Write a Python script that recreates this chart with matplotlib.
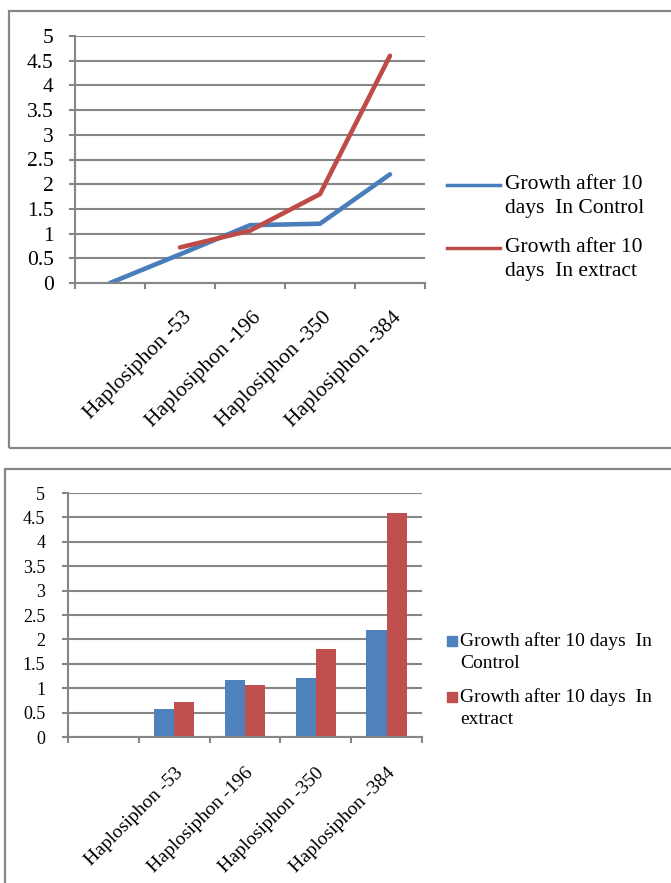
import numpy as np
import matplotlib.pyplot as plt
from matplotlib.lines import Line2D
from matplotlib.patches import Rectangle
from matplotlib.transforms import ScaledTranslation

plt.rcParams['font.family'] = ['Liberation Serif', 'DejaVu Serif']

# data (first category is blank)
categories = ["", "Haplosiphon -53", "Haplosiphon -196", "Haplosiphon -350", "Haplosiphon -384"]
control = [0, 0.58, 1.17, 1.2, 2.2]
extract = [np.nan, 0.72, 1.06, 1.8, 4.6]
yticks = np.arange(0, 5.01, 0.5)

line_blue, line_red = "#4A7EBB", "#BE4B48"
bar_blue, bar_red = "#4F81BD", "#C0504D"
gray = "#868686"

W, H = 671, 883
fig = plt.figure(figsize=(W / 100, H / 100), dpi=100)


def box(l, t, r, b):
    return [l / W, 1 - b / H, (r - l) / W, (b - t) / H]


def px(x, y):
    return (x / W, 1 - y / H)


def style_axes(ax, fs, yfs, ypad, xpad, xshift):
    n = len(categories)
    ax.set_xlim(0, n)
    ax.set_ylim(0, 5)
    ax.set_yticks(yticks)
    ax.set_yticklabels([f"{v:g}" for v in yticks], fontsize=yfs)
    ax.yaxis.grid(True, color=gray, lw=1.5)
    ax.set_axisbelow(True)
    for s in ["top", "right"]:
        ax.spines[s].set_visible(False)
    for s in ["left", "bottom"]:
        ax.spines[s].set_color(gray)
        ax.spines[s].set_linewidth(1.5)
    ax.set_xticks(np.arange(n + 1))
    ax.set_xticklabels([])
    ax.set_xticks(np.arange(n) + 0.5, minor=True)
    ax.set_xticklabels(categories, minor=True, rotation=45, ha="right",
                       rotation_mode="anchor", fontsize=fs)
    ax.tick_params(axis="x", which="minor", length=0, pad=xpad)
    ax.tick_params(axis="both", which="major", length=4.3, width=1.5, color=gray)
    ax.tick_params(axis="y", pad=ypad)
    off = ScaledTranslation(xshift / 100, 0, fig.dpi_scale_trans)
    for lbl in ax.xaxis.get_minorticklabels():
        lbl.set_transform(lbl.get_transform() + off)


def frame(l, t, r, b):
    fig.add_artist(Rectangle(px(l, b), (r - l) / W, (b - t) / H, transform=fig.transFigure,
                             fill=False, ec=gray, lw=1.6, clip_on=False))


x = np.arange(len(categories)) + 0.5

# ---- top: line chart ----
frame(9, 11, 690, 448)
ax1 = fig.add_axes(box(75, 36, 425, 283))
ax1.plot(x, control, color=line_blue, lw=3.3, solid_capstyle="round", solid_joinstyle="round")
ax1.plot(x, extract, color=line_red, lw=3.3, solid_capstyle="round", solid_joinstyle="round")
style_axes(ax1, 15.5, 15.5, 11, 18, 2)

for yl, col, lab in [(185, line_blue, "Growth after 10\ndays  In Control"),
                     (248, line_red, "Growth after 10\ndays  In extract")]:
    fig.add_artist(Line2D([447 / W, 500 / W], [1 - yl / H] * 2, color=col, lw=2.5,
                          transform=fig.transFigure))
    fig.text(*px(505, yl - 10), lab, fontsize=15.5, va="top", ha="left", linespacing=1.35)

# ---- bottom: bar chart ----
frame(5, 469, 690, 900)
ax2 = fig.add_axes(box(68, 493, 422, 737))
w = 1 / 3.5
ax2.bar(x - w / 2, control, width=w, color=bar_blue)
ax2.bar(x + w / 2, extract, width=w, color=bar_red)
style_axes(ax2, 14, 13, 12, 20, 0)

for yl, col, lab in [(641, bar_blue, "Growth after 10 days  In\nControl"),
                     (697, bar_red, "Growth after 10 days  In\nextract")]:
    fig.add_artist(Rectangle(px(447, yl + 5), 10 / W, 10 / H, color=col,
                             transform=fig.transFigure))
    fig.text(*px(460, yl - 9), lab, fontsize=14, va="top", ha="left", linespacing=1.4)

fig.savefig("out.png", dpi=100)
